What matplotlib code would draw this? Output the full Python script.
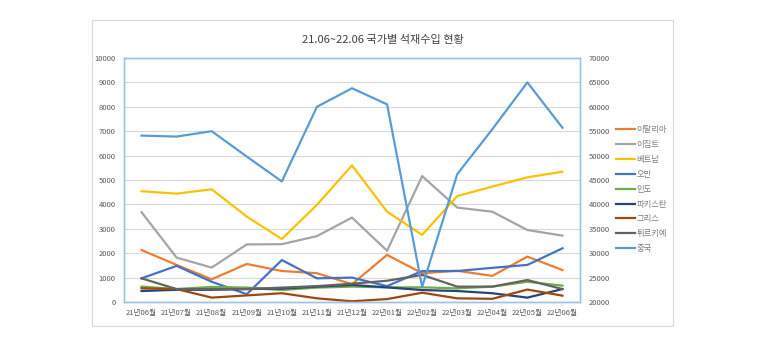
import numpy as np
import matplotlib
matplotlib.use("Agg")
import matplotlib.pyplot as plt
from matplotlib.patches import Rectangle

plt.rcParams['font.family'] = ['Noto Sans CJK KR', 'DejaVu Sans']

months = ["21년06월", "21년07월", "21년08월", "21년09월", "21년10월", "21년11월", "21년12월",
          "22년01월", "22년02월", "22년03월", "22년04월", "22년05월", "22년06월"]

# primary axis series
italy = [2130, 1520, 930, 1560, 1270, 1180, 730, 1930, 1180, 1280, 1070, 1860, 1310]
egypt = [3680, 1820, 1410, 2360, 2370, 2700, 3460, 2100, 5160, 3870, 3700, 2950, 2720]
vietnam = [4540, 4440, 4620, 3500, 2580, 3980, 5600, 3700, 2750, 4340, 4730, 5110, 5340]
oman = [970, 1480, 830, 320, 1720, 970, 1000, 650, 1270, 1270, 1400, 1520, 2200]
india = [630, 530, 620, 590, 490, 590, 630, 600, 600, 560, 630, 830, 670]
pakistan = [450, 500, 500, 530, 550, 630, 700, 600, 490, 450, 360, 180, 530]
greece = [560, 530, 180, 270, 360, 150, 30, 120, 380, 150, 130, 510, 260]
turkey = [970, 530, 530, 530, 590, 650, 750, 870, 1110, 630, 630, 900, 530]
# secondary axis
china = [54100, 53900, 55000, 49800, 44700, 60000, 63800, 60500, 23100, 46200, 55400, 65000, 55700]

series = [("이탈리아", italy, "#ED7D31"), ("이집트", egypt, "#A5A5A5"),
          ("베트남", vietnam, "#FFC000"), ("오만", oman, "#4472C4"),
          ("인도", india, "#70AD47"), ("파키스탄", pakistan, "#264478"),
          ("그리스", greece, "#9E480E"), ("튀르키예", turkey, "#636363")]
china_color = "#5B9BD5"

fig = plt.figure(figsize=(7.6, 3.6), dpi=100)
fig.patches.append(Rectangle((92 / 760, 1 - 326 / 360), 581 / 760, 306 / 360,
                             transform=fig.transFigure, fill=False,
                             edgecolor="#d9d9d9", linewidth=0.8))

ax = fig.add_axes([124 / 760, 1 - 302 / 360, 456 / 760, 244 / 360])
ax2 = ax.twinx()

x = np.arange(len(months))
handles = []
for name, vals, col in series:
    h, = ax.plot(x, vals, color=col, linewidth=1.6, label=name)
    handles.append(h)
hc, = ax2.plot(x, china, color=china_color, linewidth=1.6, label="중국")
handles.append(hc)

ax.set_xlim(-0.5, len(months) - 0.5)
ax.set_ylim(0, 10000)
ax.set_yticks(np.arange(0, 10001, 1000))
ax2.set_ylim(20000, 70000)
ax2.set_yticks(np.arange(20000, 70001, 5000))
ax.set_xticks(x)
ax.set_xticklabels(months)

ax.grid(axis="y", color="#d9d9d9", linewidth=0.8)
ax.set_axisbelow(True)
for a in (ax, ax2):
    for s in a.spines.values():
        s.set_color("#9DC3E6")
        s.set_linewidth(1.0)
    a.tick_params(length=0, labelsize=5.5, colors="#595959")
ax.tick_params(axis="y", pad=6)
ax.tick_params(axis="x", pad=5)
ax2.tick_params(axis="y", pad=6)

fig.text(383 / 760, 1 - 40 / 360, "21.06~22.06 국가별 석재수입 현황",
         ha="center", va="center", fontsize=8, color="#404040")

leg = fig.legend(handles=handles, loc="upper left",
                 bbox_to_anchor=(613 / 760, 1 - 122 / 360), frameon=False,
                 fontsize=6, labelcolor="#7f7f7f", handlelength=2.2,
                 handletextpad=0.2, labelspacing=0.7, borderaxespad=0)

fig.savefig("out.png", dpi=100)
